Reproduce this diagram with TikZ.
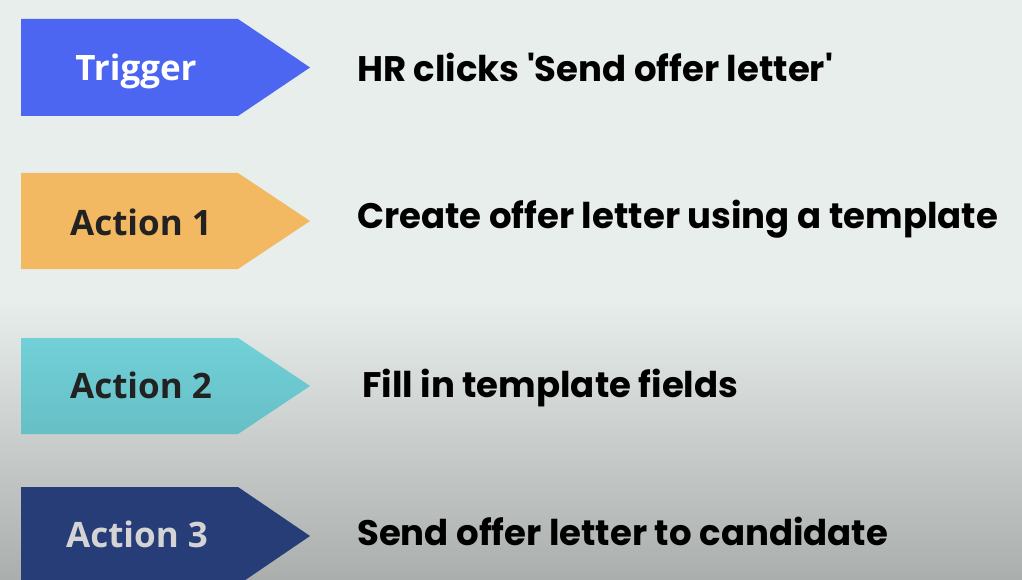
\documentclass[tikz,border=0pt]{standalone}
\usepackage{fontspec}
\newfontfamily\rfont{Poppins}
\newfontfamily\lfont{Open Sans}
\definecolor{bgtop}{HTML}{E8EEEB}
\definecolor{bgbot}{HTML}{AAAEAD}
\definecolor{trig}{HTML}{4C66F2}
\definecolor{actone}{HTML}{F2B862}
\definecolor{acttwoa}{HTML}{72D0D8}
\definecolor{acttwob}{HTML}{66BFC5}
\definecolor{actthree}{HTML}{263D78}
\definecolor{lbldark}{HTML}{222222}
\definecolor{lbllight}{HTML}{D4D4D4}
\begin{document}
\begin{tikzpicture}[x=1pt,y=-1pt,
  lbl/.style={font=\lfont\bfseries\fontsize{35}{40}\selectfont, inner sep=0pt, anchor=base},
  desc/.style={font=\rfont\bfseries\fontsize{35.5}{40}\selectfont, inner sep=0pt, anchor=base west, text=black}]
\useasboundingbox (0,0) rectangle (1022,580);
\fill[bgtop] (0,0) rectangle (1022,300);
\shade[top color=bgtop, bottom color=bgbot] (0,299.5) rectangle (1022,580);
% chevrons
\fill[trig] (21,19) -- (238,19) -- (310,67.5) -- (238,116) -- (21,116) -- cycle;
\fill[actone] (21,173) -- (238,173) -- (310,221) -- (238,269) -- (21,269) -- cycle;
\shade[top color=acttwoa, bottom color=acttwob] (21,338) -- (238,338) -- (310,386) -- (238,434) -- (21,434) -- cycle;
\fill[actthree] (21,487) -- (238,487) -- (310,536) -- (238,585) -- (21,585) -- cycle;
% labels
\node[lbl, text=white] (t0) at (136,81) {Trigger};
\node[lbl, text=lbldark] (t1) at (141,235) {Action 1};
\node[lbl, text=lbldark] (t2) at (141,398) {Action 2};
\node[lbl, text=lbllight] (t3) at (137,547) {Action 3};
% descriptions
\node[desc] (d0) at (357,82) {HR clicks 'Send offer letter'};
\node[desc] (d1) at (357,228) {Create offer letter using a template};
\node[desc] (d2) at (362,397) {Fill in template fields};
\node[desc] (d3) at (357,545) {Send offer letter to candidate};
\end{tikzpicture}
\end{document}
